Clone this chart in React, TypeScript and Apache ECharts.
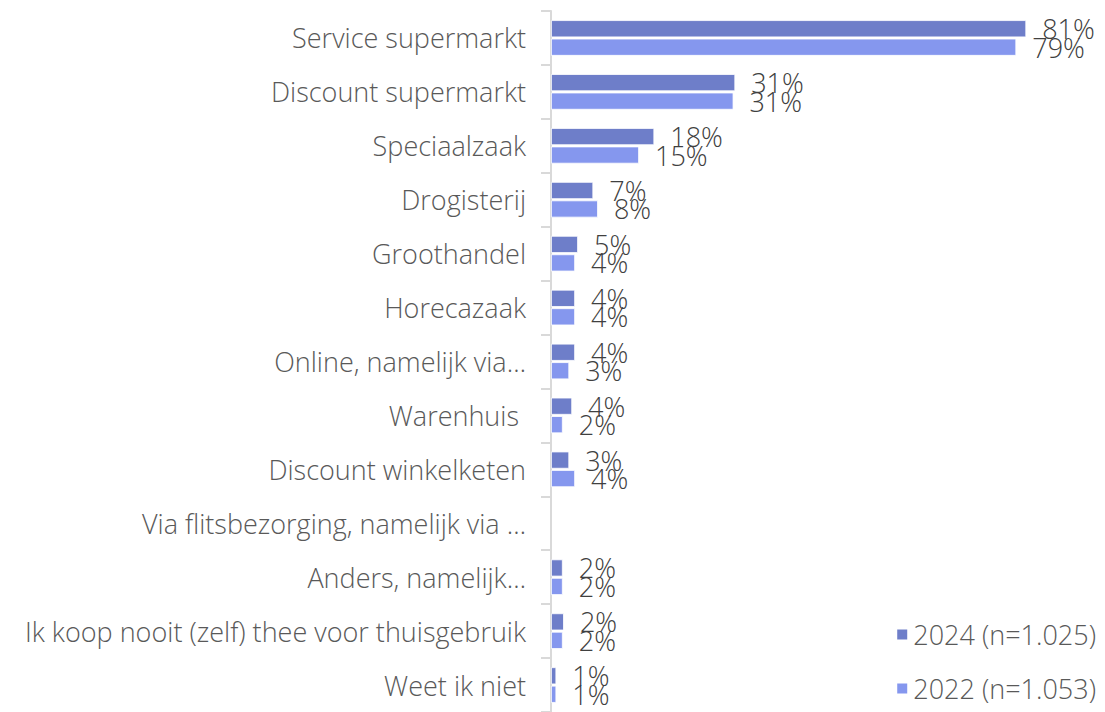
import React, { useEffect, useRef } from "react";
import * as echarts from "echarts";

const categories = [
  "Service supermarkt",
  "Discount supermarkt",
  "Speciaalzaak",
  "Drogisterij",
  "Groothandel",
  "Horecazaak",
  "Online, namelijk via…",
  "Warenhuis ",
  "Discount winkelketen",
  "Via flitsbezorging, namelijk via …",
  "Anders, namelijk…",
  "Ik koop nooit (zelf) thee voor thuisgebruik",
  "Weet ik niet",
];
const values2024: (number | null)[] = [81, 31.4, 17.6, 7.2, 4.6, 4.1, 4.1, 3.6, 3.1, null, 2, 2.2, 0.9];
const values2022: (number | null)[] = [79.3, 31.1, 15, 8, 4.1, 4.1, 3.1, 2, 4.1, null, 2, 2, 0.9];
const seriesNames = ["2024 (n=1.025)", "2022 (n=1.053)"];
const colors = ["#6E7EC9", "#8597EE"];

const FONT = "'Open Sans', sans-serif";

export default function App() {
  const ref = useRef<HTMLDivElement>(null);
  useEffect(() => {
    if (!ref.current) return;
    const chart = echarts.init(ref.current, undefined, { renderer: "svg" });
    const label = {
      show: true,
      position: "right" as const,
      distance: 16,
      fontSize: 27,
      fontWeight: 300,
      fontFamily: FONT,
      color: "#404040",
      formatter: (p: any) => (p.value == null ? "" : Math.round(p.value) + "%"),
    };
    chart.setOption({
      animation: false,
      textStyle: { fontFamily: FONT },
      legend: {
        orient: "vertical",
        right: 4,
        top: 616,
        itemGap: 27,
        itemWidth: 12,
        itemHeight: 12,
        icon: "rect",
        textStyle: { fontSize: 27, fontWeight: 300, color: "#595959", fontFamily: FONT },
        data: seriesNames,
      },
      grid: { left: 551, top: 11, width: 528, height: 706 },
      xAxis: {
        type: "value",
        min: 0,
        max: 90,
        show: false,
      },
      yAxis: {
        type: "category",
        inverse: true,
        data: categories,
        axisLine: { show: true, lineStyle: { color: "#D9D9D9", width: 2 } },
        axisTick: { show: true, length: 10, lineStyle: { color: "#D9D9D9", width: 2 } },
        axisLabel: { fontSize: 27, fontWeight: 300, color: "#595959", margin: 25, fontFamily: FONT },
      },
      series: [
        {
          name: seriesNames[0],
          type: "bar",
          data: values2024,
          itemStyle: { color: colors[0], borderColor: "#fff", borderWidth: 0.8 },
          barGap: "8%",
          barCategoryGap: "34%",
          label,
        },
        {
          name: seriesNames[1],
          type: "bar",
          data: values2022,
          itemStyle: { color: colors[1], borderColor: "#fff", borderWidth: 0.8 },
          label,
        },
      ],
    });
    return () => chart.dispose();
  }, []);
  return (
    <div
      ref={ref}
      style={{ position: "absolute", left: 0, top: 0, width: 1105, height: 712, background: "#fff" }}
    />
  );
}
